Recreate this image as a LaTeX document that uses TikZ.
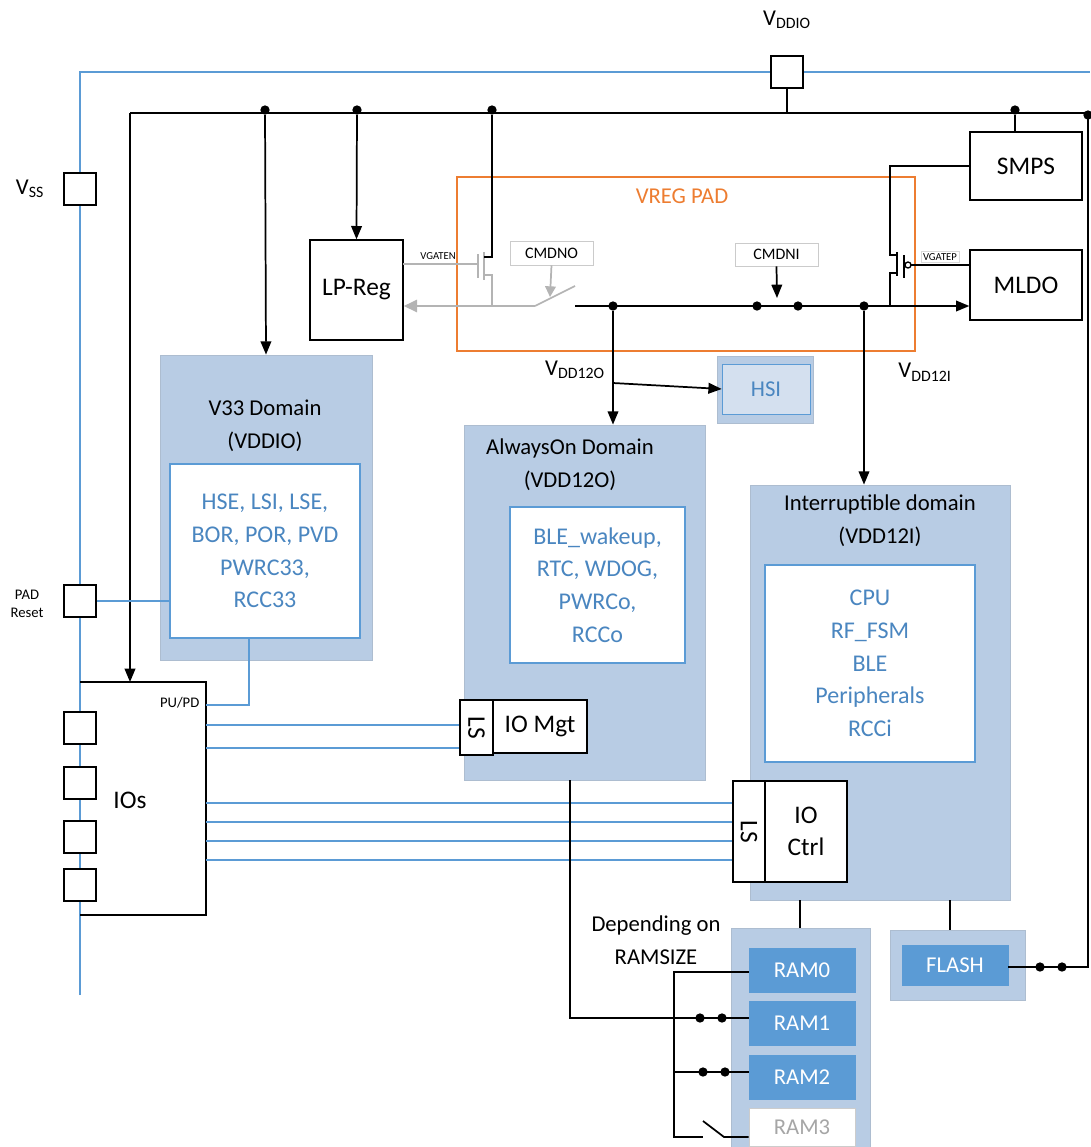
\documentclass[tikz,border=0pt]{standalone}
\usepackage{fontspec}
\setmainfont{Carlito}
\usetikzlibrary{arrows.meta,calc}
\definecolor{dom}{HTML}{B8CCE4}
\definecolor{btxt}{HTML}{4A86C0}
\definecolor{bline}{HTML}{5B9BD5}
\definecolor{ram}{HTML}{5B9BD5}
\definecolor{org}{HTML}{ED7D31}
\definecolor{gry}{HTML}{B4B4B4}
\newcommand\bx[7]{\node[#6, inner sep=0pt, align=center, minimum width={((#4)-(#2))*0.75pt}, minimum height={((#5)-(#3))*0.75pt}] (#1) at ({((#2)+(#4))/2},{((#3)+(#5))/2}) {#7};}
\begin{document}
\begin{tikzpicture}[x=0.75pt,y=-0.75pt,
  blk/.style={draw=black, line width=1pt, fill=white, font=\fontsize{19}{24}\selectfont},
  pad/.style={draw=black, line width=0.8pt, fill=white},
  domo/.style={fill=dom, draw=dom!80!gray, line width=0.6pt},
  domi/.style={fill=white, draw=bline, line width=1pt, text=btxt, font=\fontsize{18}{24.5}\selectfont},
  ramb/.style={fill=ram, draw=ram, text=white, font=\fontsize{17}{20}\selectfont},
  wire/.style={line width=1.3pt, black},
  bw/.style={line width=1pt, bline},
  arr/.style={wire, -{Triangle[length=10pt,width=8pt]}},
  dot/.style={circle, fill=black, inner sep=0pt, minimum size=7pt},
  title/.style={font=\fontsize{17}{24.5}\selectfont, align=center},
  small/.style={font=\fontsize{8}{9}\selectfont}]
\useasboundingbox (0,0) rectangle (1090,1147);
% supply rails
\draw[bw] (80,995) -- (80,72) -- (1090,72);
\bx{vddiopad}{771}{56}{803}{88}{pad}{}
\node[title] (vddio) at (787,20) {V\textsubscript{DDIO}};
\bx{vsspad}{64}{173}{96}{205}{pad}{}
\node[title] (vss) at (30,189) {V\textsubscript{SS}};
% main bus
\coordinate (bl) at (130,113);
\coordinate (br) at (1088,113);
\draw[wire] (bl) -- (br);
\draw[wire] (vddiopad.south) -- (787,113);
\node[dot] (d1) at (265,110) {};
\node[dot] (d2) at (357,110) {};
\node[dot] (d3) at (492,110) {};
\node[dot] (d4) at (1015,110) {};
\node[dot] (d5) at (1088,115) {};
% blocks
\bx{lpreg}{310}{240}{403}{340}{blk}{LP-Reg}
\draw[org, line width=1pt] (457,177) rectangle (915,351);
\node[text=org, font=\fontsize{17}{20}\selectfont] (vregl) at (682,196) {VREG PAD};
\bx{smps}{970}{132}{1082}{200}{blk}{SMPS}
\bx{mldo}{970}{250}{1082}{320}{blk}{MLDO}
\draw[wire] (d4) -- (smps.north -| d4);
\draw[arr] (d2) -- (lpreg.north);
% gray NMOS & switch
\draw[gry, line width=1.3pt] (403,264) -- (478,264);
\node[small, anchor=south] (vgaten) at (438,264) {VGATEN};
\draw[gry, line width=1.3pt] (478,254) -- (478,278);
\draw[gry, line width=1.3pt] (484,252) -- (484,280);
\draw[wire] (d3) -- (492,257) -- (484,257);
\draw[gry, line width=1.3pt] (484,275) -- (492,275) -- (492,306);
\draw[gry, line width=2pt, -{Triangle[length=10pt,width=9pt]}] (535,306) -- (lpreg.east |- 0,306);
\draw[gry, line width=1.3pt] (535,306) -- (575,286);
\bx{cmdno}{510}{241}{593}{265}{draw=gry!70,fill=white,font=\fontsize{12}{13}\selectfont}{CMDNO}
\draw[gry, line width=1.3pt, -{Triangle[length=8pt,width=8pt]}] (cmdno.south) -- (550,297);
% main VDD12 line
\coordinate (sw) at (575,306);
\draw[arr] (sw) -- (mldo.west |- 0,306);
\node[dot] (d6) at (613,306) {};
\node[dot] (d7) at (757,306) {};
\node[dot] (d8) at (798,306) {};
\node[dot] (d9) at (864,306) {};
\bx{cmdni}{735}{243}{818}{266}{draw=gry!70,fill=white,font=\fontsize{12}{13}\selectfont}{CMDNI}
\draw[arr] (cmdni.south) -- (777,298);
% PMOS
\draw[wire] (smps.west) -- (890,166) -- (890,255) -- (897,255);
\draw[wire] (897,252) -- (897,276);
\draw[wire] (897,273) -- (890,273) -- (890,306);
\draw[wire] (904,255) -- (904,278);
\draw[line width=1pt] (908,265) circle (3);
\draw[wire] (911,265) -- (mldo.west |- 0,265);
\node[small, fill=white, draw=gray!30, inner sep=1.5pt] (vgatep) at (940,257) {VGATEP};
% VDD12O branch
\node[title] (v12o) at (575,370) {V\textsubscript{DD12O}};
\node[title] (v12i) at (925,372) {V\textsubscript{DD12I}};
\bx{hsio}{717}{356}{813}{423}{domo}{}
\bx{hsi}{722}{364}{810}{414}{fill=dom!60,draw=bline,text=btxt,font=\fontsize{17}{20}\selectfont}{HSI}
\coordinate (br1) at (613,383);
\draw[arr] (br1) -- (hsi.west);
% domains
\bx{v33}{160}{355}{372}{660}{domo}{}
\node[title] (v33t) at (265,426) {V33 Domain\\(VDDIO)};
\bx{v33i}{170}{464}{360}{638}{domi}{HSE, LSI, LSE,\\BOR, POR, PVD\\PWRC33,\\RCC33}
\draw[arr] (d1) -- (v33.north);
\bx{aon}{464}{425}{705}{780}{domo}{}
\node[title] (aont) at (570,465) {AlwaysOn Domain\\(VDD12O)};
\bx{aoni}{510}{507}{685}{663}{domi}{BLE\_wakeup,\\RTC, WDOG,\\PWRCo,\\RCCo}
\draw[arr] (d6) -- (aon.north -| d6);
\bx{intd}{750}{485}{1010}{900}{domo}{}
\node[title] (intt) at (880,521) {Interruptible domain\\(VDD12I)};
\bx{inti}{765}{565}{975}{762}{domi}{CPU\\RF\_FSM\\BLE\\Peripherals\\RCCi}
\draw[arr] (d9) -- (intd.north -| d9);
\bx{ls1}{460}{700}{493}{755}{blk}{\rotatebox{-90}{LS}}
\bx{iomgt}{493}{700}{587}{753}{blk}{IO Mgt}
\bx{ls2}{733}{781}{765}{882}{blk}{\rotatebox{-90}{LS}}
\bx{ioctrl}{765}{781}{847}{882}{blk}{IO\\Ctrl}
% IOs
\coordinate (iotl) at (80,682);
\draw[line width=1pt] (iotl) -- (206,682) -- (206,915) -- (80,915);
\node[font=\fontsize{19}{22}\selectfont] (ios) at (130,800) {IOs};
\node[font=\fontsize{11}{12}\selectfont, anchor=east] (pupd) at (204,703) {PU/PD};
\draw[arr] (bl) -- (130,682);
\foreach \y [count=\i] in {728,783,837,885} {\bx{io\i}{64}{\y-16}{96}{\y+16}{pad}{}}
\bx{padr}{64}{585}{96}{617}{pad}{}
\node[font=\fontsize{11}{13}\selectfont, align=center] (padrl) at (27,604) {PAD\\Reset};
\draw[bw] (padr.east) -- (v33i.west |- padr.east);
\draw[bw] (249,638) -- (249,705) -- (206,705);
\foreach \y in {725,748} \draw[bw] (206,\y) -- (ls1.west |- 0,\y);
\foreach \y in {803,822,841,860} \draw[bw] (206,\y) -- (ls2.west |- 0,\y);
% memories
\bx{ramg}{731}{928}{870}{1147}{domo}{}
\bx{ram0}{749}{948}{855}{992}{ramb}{RAM0}
\bx{ram1}{749}{1001}{855}{1045}{ramb}{RAM1}
\bx{ram2}{749}{1055}{855}{1099}{ramb}{RAM2}
\bx{ram3}{749}{1108}{855}{1146}{fill=white,draw=gray!40,text=gray!70,font=\fontsize{17}{20}\selectfont}{RAM3}
\bx{flg}{890}{930}{1025}{1000}{domo}{}
\bx{flash}{902}{945}{1008}{985}{ramb}{FLASH}
\node[title] (dep) at (656,940) {Depending on\\RAMSIZE};
\draw[line width=1pt] (800,900) -- (800,928);
\draw[line width=1pt] (950,900) -- (950,930);
\draw[wire] (570,780) -- (570,1018) -- (ram1.west |- 0,1018);
\node[dot] at (700,1018) {}; \node[dot] at (722,1018) {};
\draw[wire] (ram0.west |- 0,972) -- (674,972) -- (674,1137) -- (703,1137);
\draw[wire] (703,1121) -- (724,1137) -- (ram3.west |- 0,1137);
\draw[wire] (674,1072) -- (ram2.west |- 0,1072);
\node[dot] at (703,1072) {}; \node[dot] at (725,1072) {};
\draw[wire] (br) -- (1088,967) -- (flash.east |- 0,967);
\node[dot] at (1040,967) {}; \node[dot] at (1062,967) {};
\end{tikzpicture}
\end{document}
